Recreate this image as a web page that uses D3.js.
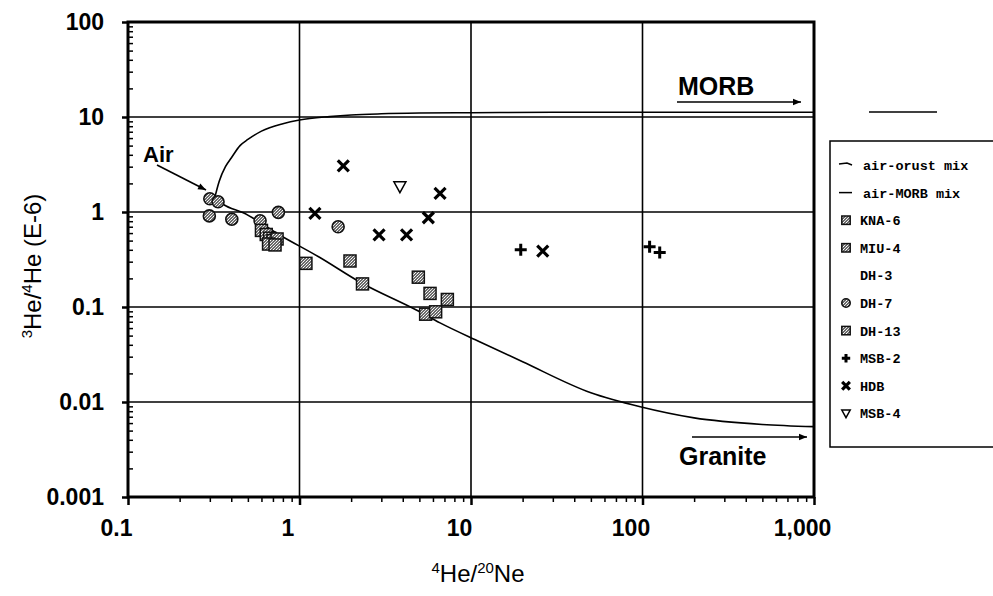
<!DOCTYPE html>
<html>
<head>
<meta charset="utf-8">
<script src="https://cdn.jsdelivr.net/npm/d3@7"></script>
<style>
  html, body { margin: 0; padding: 0; background: #fff; }
  svg { display: block; }
</style>
</head>
<body>
<svg id="chart" width="993" height="596"></svg>
<script>
// Mixing curves
const airMorbX = [0.32, 0.34, 0.37, 0.40, 0.45, 0.50, 0.60, 0.80, 1.0, 1.5, 2.0, 3.0, 5.0, 10, 30, 100, 1000];
const airMorbY = [1.40, 2.10, 3.00, 3.70, 5.00, 5.80, 7.10, 8.50, 9.30, 10.1, 10.5, 10.8, 11.0, 11.1, 11.2, 11.2, 11.2];

const airCrustX = [0.33, 0.36, 0.47, 0.77, 1.3, 2.3, 4.8, 6.6, 11.3, 20, 50, 97, 200, 500, 1000];
const airCrustY = [1.35, 1.20, 0.98, 0.57, 0.336, 0.179, 0.093, 0.068, 0.0428, 0.0265, 0.0125, 0.0089, 0.0068, 0.0058, 0.0055];

// Samples: 4He/20Ne and 3He/4He (E-6)
const kna6X = [0.60, 0.64, 0.67, 0.70];
const kna6Y = [0.64, 0.58, 0.53, 0.50];
const miu4X = [1.97, 2.33, 4.93, 7.28];
const miu4Y = [0.305, 0.175, 0.206, 0.120];
const dh7X = [0.30, 0.335, 0.298, 0.403, 0.753, 0.589, 1.68];
const dh7Y = [1.38, 1.28, 0.91, 0.84, 0.99, 0.81, 0.70];
const dh13X = [0.74, 0.66, 0.72, 1.09, 5.77, 5.44, 6.22];
const dh13Y = [0.52, 0.46, 0.45, 0.288, 0.139, 0.084, 0.089];
const msb2X = [19.5, 110, 126];
const msb2Y = [0.40, 0.43, 0.375];
const hdbX = [1.80, 6.6, 1.23, 5.64, 2.91, 4.21, 26.2];
const hdbY = [3.05, 1.57, 0.97, 0.87, 0.573, 0.573, 0.388];
const msb4X = [3.85];
const msb4Y = [1.85];

const xTicks = [0.1, 1, 10, 100, 1000];
const xTickLabels = ["0.1", "1", "10", "100", "1,000"];
const yTicks = [0.001, 0.01, 0.1, 1, 10, 100];
const yTickLabels = ["0.001", "0.01", "0.1", "1", "10", "100"];

const legendLabels = ["air-orust mix", "air-MORB mix", "KNA-6", "MIU-4", "DH-3", "DH-7", "DH-13", "MSB-2", "HDB", "MSB-4"];
const legendKinds = ["crust", "morb", "square", "square", "none", "circle", "square", "plus", "cross", "tri"];

const svg = d3.select("#chart");
const plotL = 128, plotR = 814, plotT = 22, plotB = 497;

const x = d3.scaleLog().domain([0.1, 1000]).range([plotL, plotR]);
const y = d3.scaleLog().domain([0.001, 100]).range([plotB, plotT]);

// dithered grey fill for the square / circle markers
const defs = svg.append("defs");
const pat = defs.append("pattern").attr("id", "dither")
  .attr("width", 3).attr("height", 3).attr("patternUnits", "userSpaceOnUse");
pat.append("rect").attr("width", 3).attr("height", 3).attr("fill", "#6a6a6a");
pat.append("rect").attr("x", 0).attr("y", 0).attr("width", 1).attr("height", 1).attr("fill", "#fff");
pat.append("rect").attr("x", 2).attr("y", 1).attr("width", 1).attr("height", 1).attr("fill", "#ddd");
pat.append("rect").attr("x", 1).attr("y", 2).attr("width", 1).attr("height", 1).attr("fill", "#eee");

defs.append("marker").attr("id", "arrowBig")
  .attr("viewBox", "0 0 10 10").attr("refX", 10).attr("refY", 5)
  .attr("markerWidth", 26).attr("markerHeight", 8).attr("markerUnits", "userSpaceOnUse")
  .attr("orient", "auto")
  .append("path").attr("d", "M0,1 L10,5 L0,9 Z").attr("fill", "#000");

// grid lines
const grid = svg.append("g");
[1, 10, 100].forEach(v => grid.append("line")
  .attr("x1", x(v)).attr("x2", x(v)).attr("y1", plotT).attr("y2", plotB)
  .attr("stroke", "#000").attr("stroke-width", 1.6));
[0.01, 0.1, 1, 10].forEach(v => grid.append("line")
  .attr("x1", plotL).attr("x2", plotR).attr("y1", y(v)).attr("y2", y(v))
  .attr("stroke", "#000").attr("stroke-width", 1.6));

// axes
const minorX = [];
for (let d = 0.1; d < 999; d *= 10) for (let k = 2; k <= 9; k++) minorX.push(d * k);
const minorY = [];
for (let d = 0.001; d < 99; d *= 10) for (let k = 2; k <= 9; k++) minorY.push(d * k);

const tickFont = "'Liberation Sans', Arial, sans-serif";
const xAxis = svg.append("g").attr("transform", `translate(0,${plotB})`)
  .call(d3.axisBottom(x).tickValues(xTicks).tickSize(8).tickPadding(15)
    .tickFormat((d, i) => xTickLabels[i]));
xAxis.select(".domain").remove();
xAxis.selectAll(".tick line").attr("stroke-width", 2.5);
xAxis.selectAll(".tick text").attr("dx", -12)
  .style("font-family", tickFont)
  .style("font-weight", "bold").style("font-size", "23px").attr("fill", "#000");
svg.append("g").attr("transform", `translate(0,${plotB})`)
  .call(d3.axisBottom(x).tickValues(minorX).tickSize(5).tickFormat(""))
  .call(g => g.select(".domain").remove())
  .selectAll(".tick line").attr("stroke-width", 1.5);

const yAxis = svg.append("g").attr("transform", `translate(${plotL},0)`)
  .call(d3.axisLeft(y).tickValues(yTicks).tickSize(6).tickPadding(18)
    .tickFormat((d, i) => yTickLabels[i]));
yAxis.select(".domain").remove();
yAxis.selectAll(".tick line").attr("stroke-width", 2.5);
yAxis.selectAll(".tick text")
  .style("font-family", tickFont)
  .style("font-weight", "bold").style("font-size", "23px").attr("fill", "#000");
svg.append("g").attr("transform", `translate(${plotL},0)`)
  .call(d3.axisRight(y).tickValues(minorY).tickSize(5).tickFormat(""))
  .call(g => g.select(".domain").remove())
  .selectAll(".tick line").attr("stroke-width", 1.5);

// frame
svg.append("rect").attr("x", plotL).attr("y", plotT)
  .attr("width", plotR - plotL).attr("height", plotB - plotT)
  .attr("fill", "none").attr("stroke", "#000").attr("stroke-width", 3);

// mixing curves
const line = d3.line().x(d => x(d[0])).y(d => y(d[1])).curve(d3.curveMonotoneX);
svg.append("path").datum(d3.zip(airMorbX, airMorbY)).attr("d", line)
  .attr("fill", "none").attr("stroke", "#000").attr("stroke-width", 1.6);
svg.append("path").datum(d3.zip(airCrustX, airCrustY)).attr("d", line)
  .attr("fill", "none").attr("stroke", "#000").attr("stroke-width", 1.6);

// marker shapes
function drawMarker(g, kind, cx, cy, s) {
  if (kind === "square") {
    g.append("rect").attr("x", cx - 6 * s).attr("y", cy - 6 * s)
      .attr("width", 12 * s).attr("height", 12 * s)
      .attr("fill", "url(#dither)").attr("stroke", "#111").attr("stroke-width", 1.5);
  } else if (kind === "circle") {
    g.append("circle").attr("cx", cx).attr("cy", cy).attr("r", 6 * s)
      .attr("fill", "url(#dither)").attr("stroke", "#111").attr("stroke-width", 1.6);
  } else if (kind === "plus") {
    const r = 6 * s;
    g.append("path").attr("d", `M${cx - r},${cy}H${cx + r}M${cx},${cy - r}V${cy + r}`)
      .attr("stroke", "#000").attr("stroke-width", 3).attr("fill", "none");
  } else if (kind === "cross") {
    const r = 5.5 * s;
    g.append("path").attr("d", `M${cx - r},${cy - r}L${cx + r},${cy + r}M${cx - r},${cy + r}L${cx + r},${cy - r}`)
      .attr("stroke", "#000").attr("stroke-width", 3.2).attr("fill", "none");
  } else if (kind === "tri") {
    const r = 6 * s;
    g.append("path").attr("d", `M${cx - r},${cy - r * 0.8}L${cx + r},${cy - r * 0.8}L${cx},${cy + r}Z`)
      .attr("stroke", "#000").attr("stroke-width", 1.5).attr("fill", "#fff");
  }
}

const pts = svg.append("g");
const series = [
  ["circle", dh7X, dh7Y], ["square", kna6X, kna6Y], ["square", dh13X, dh13Y],
  ["square", miu4X, miu4Y], ["cross", hdbX, hdbY], ["plus", msb2X, msb2Y], ["tri", msb4X, msb4Y]
];
series.forEach(([kind, xs, ys]) => xs.forEach((v, i) => drawMarker(pts, kind, x(v), y(ys[i]), 1)));

// annotations
const ann = svg.append("g").style("font-family", "'Liberation Sans', Arial, sans-serif")
  .style("font-weight", "bold").attr("fill", "#000");
ann.append("text").attr("x", 143).attr("y", 162).style("font-size", "22px").text("Air");
svg.append("line").attr("x1", 157).attr("y1", 165).attr("x2", 206).attr("y2", 190)
  .attr("stroke", "#000").attr("stroke-width", 1.6).attr("marker-end", "url(#arrowBig)");
ann.append("text").attr("x", 678).attr("y", 95).style("font-size", "25px").text("MORB");
svg.append("line").attr("x1", 677).attr("y1", 102).attr("x2", 801).attr("y2", 102)
  .attr("stroke", "#000").attr("stroke-width", 1.6).attr("marker-end", "url(#arrowBig)");
ann.append("text").attr("x", 679).attr("y", 465).style("font-size", "25px").text("Granite");
svg.append("line").attr("x1", 692).attr("y1", 437).attr("x2", 807).attr("y2", 437)
  .attr("stroke", "#000").attr("stroke-width", 1.6).attr("marker-end", "url(#arrowBig)");

// short rule above the legend
svg.append("line").attr("x1", 869).attr("x2", 937).attr("y1", 112).attr("y2", 112)
  .attr("stroke", "#000").attr("stroke-width", 1.5);

// axis titles
svg.append("text").attr("x", 478).attr("y", 582).attr("text-anchor", "middle")
  .style("font-family", "'Liberation Sans', Arial, sans-serif").style("font-size", "24px")
  .html('<tspan dy="-9" font-size="15px">4</tspan><tspan dy="9">He/</tspan><tspan dy="-9" font-size="15px">20</tspan><tspan dy="9">Ne</tspan>');
svg.append("text").attr("transform", "translate(41,266) rotate(-90)").attr("text-anchor", "middle")
  .style("font-family", "'Liberation Sans', Arial, sans-serif").style("font-size", "24px")
  .html('<tspan dy="-9" font-size="15px">3</tspan><tspan dy="9">He/</tspan><tspan dy="-9" font-size="15px">4</tspan><tspan dy="9">He (E-6)</tspan>');

// legend
const lg = svg.append("g");
lg.append("rect").attr("x", 830).attr("y", 141).attr("width", 180).attr("height", 306)
  .attr("fill", "#fff").attr("stroke", "#000").attr("stroke-width", 1.5);
legendLabels.forEach((lab, i) => {
  const cy = 165 + i * 27.6;
  const k = legendKinds[i];
  if (k === "crust") {
    lg.append("path").attr("d", `M839,${cy - 1}L847,${cy - 2}L852,${cy}`)
      .attr("stroke", "#000").attr("stroke-width", 1.5).attr("fill", "none");
  } else if (k === "morb") {
    lg.append("line").attr("x1", 839).attr("x2", 852).attr("y1", cy).attr("y2", cy)
      .attr("stroke", "#000").attr("stroke-width", 1.5);
  } else if (k !== "none") {
    drawMarker(lg, k, 846, cy, 0.7);
  }
  lg.append("text").attr("x", i < 2 ? 863 : 860).attr("y", cy + 5)
    .style("font-family", "'Liberation Mono', 'DejaVu Sans Mono', monospace")
    .style("font-weight", "bold").style("font-size", "13.5px").text(lab);
});
</script>
</body>
</html>
